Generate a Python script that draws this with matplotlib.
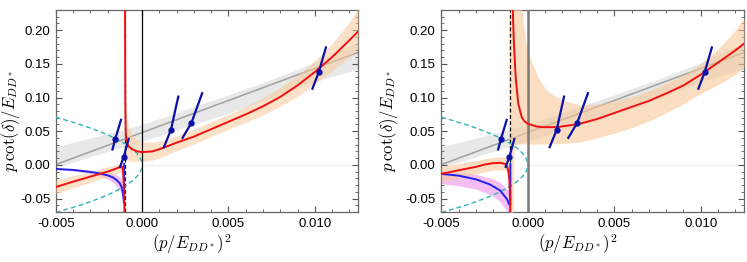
import numpy as np
import matplotlib
matplotlib.use("Agg")
import matplotlib.pyplot as plt
from matplotlib.ticker import MultipleLocator, FormatStrFormatter

plt.rcParams['font.family'] = ['Liberation Sans', 'DejaVu Sans']
plt.rcParams['mathtext.fontset'] = 'cm'

# ---------------- data ----------------
# lattice data: segments (low end, centre, high end)
data_seg_x = [[-0.00173, -0.00155, -0.00120],
              [-0.00130, -0.00107, -0.00076],
              [0.00124, 0.00167, 0.00211],
              [0.00231, 0.00286, 0.00350],
              [0.00984, 0.01023, 0.01066]]
data_seg_y = [[0.0213, 0.0387, 0.0684],
              [-0.0045, 0.0113, 0.0400],
              [0.0248, 0.0520, 0.1030],
              [0.0387, 0.0625, 0.1080],
              [0.1116, 0.1378, 0.1760]]

# cyan dashed: bound-state condition
cyan_x = [-0.005, -0.0045, -0.004, -0.0035, -0.003, -0.0025, -0.002, -0.0015,
          -0.001, -0.0006, -0.0003, -0.0001, -0.00002, 0.0]
cyan_y = [0.0707, 0.0671, 0.0632, 0.0592, 0.0548, 0.0500, 0.0447, 0.0387,
          0.0316, 0.0245, 0.0173, 0.0100, 0.0045, 0.0]

# gray linear fit and band
gray_x = [-0.005, 0.0125]
gray_y = [0.0004, 0.167]
gband_x = [-0.005, -0.0025, 0.0, 0.0025, 0.005, 0.0075, 0.010, 0.0125]
gband_hi = [0.027, 0.043, 0.060, 0.082, 0.104, 0.127, 0.152, 0.182]
gband_lo = [-0.004, 0.016, 0.035, 0.056, 0.077, 0.100, 0.124, 0.142]

lhc_x = -0.001

# ---- left panel ----
L_red_up_x = [-0.00099, -0.00098, -0.00097, -0.00096, -0.00094, -0.0009, -0.0008,
              -0.0006, -0.0003, 0.0, 0.0006, 0.0012, 0.002, 0.003, 0.004, 0.005,
              0.006, 0.007, 0.008, 0.009, 0.010, 0.011, 0.012, 0.0125]
L_red_up_y = [0.25, 0.16, 0.10, 0.065, 0.045, 0.036, 0.028, 0.0235, 0.020, 0.019,
              0.020, 0.025, 0.033, 0.042, 0.053, 0.064, 0.075, 0.087, 0.101, 0.118,
              0.138, 0.160, 0.185, 0.198]
L_oband_up_x = [-0.00097, -0.0009, -0.0008, -0.0006, -0.0003, 0.0, 0.0006, 0.0012,
                0.002, 0.003, 0.004, 0.005, 0.006, 0.007, 0.008, 0.009, 0.010,
                0.011, 0.012, 0.0125]
L_oband_up_hi = [0.09, 0.075, 0.058, 0.045, 0.037, 0.034, 0.034, 0.036, 0.043, 0.053,
                 0.064, 0.075, 0.087, 0.100, 0.115, 0.133, 0.155, 0.180, 0.212, 0.232]
L_oband_up_lo = [0.008, 0.007, 0.006, 0.005, 0.005, 0.005, 0.007, 0.012, 0.021, 0.031,
                 0.042, 0.053, 0.063, 0.074, 0.087, 0.102, 0.120, 0.140, 0.160, 0.172]
L_red_lo_x = [-0.005, -0.004, -0.003, -0.002, -0.0016, -0.0013, -0.0012, -0.00115,
              -0.0011, -0.00106, -0.00103, -0.00101]
L_red_lo_y = [-0.033, -0.025, -0.0175, -0.010, -0.0065, -0.0035, -0.0025, -0.003,
              -0.010, -0.030, -0.055, -0.080]
L_oband_lo_x = [-0.005, -0.004, -0.003, -0.002, -0.0016, -0.0013, -0.00115]
L_oband_lo_hi = [-0.023, -0.016, -0.010, -0.003, 0.000, 0.002, 0.002]
L_oband_lo_lo = [-0.043, -0.034, -0.026, -0.018, -0.014, -0.011, -0.012]
L_blue_x = [-0.005, -0.004, -0.003, -0.0025, -0.002, -0.0017, -0.0015, -0.0013,
            -0.0012, -0.00112, -0.00107, -0.00105, -0.00104]
L_blue_y = [-0.006, -0.0075, -0.0105, -0.0125, -0.0155, -0.0185, -0.022, -0.027,
            -0.032, -0.040, -0.050, -0.056, 0.0015]
L_mband_x = [-0.005, -0.004, -0.003, -0.0025, -0.002, -0.0017, -0.0015, -0.0013,
             -0.0012, -0.00112, -0.00105]
L_mband_hi = [-0.005, -0.006, -0.008, -0.009, -0.011, -0.013, -0.015, -0.018,
              -0.022, -0.030, -0.045]
L_mband_lo = [-0.007, -0.009, -0.013, -0.016, -0.021, -0.026, -0.031, -0.037,
              -0.042, -0.050, -0.060]

# ---- right panel ----
R_red_up_x = [-0.00088, -0.00085, -0.0008, -0.0007, -0.00055, -0.00035, -0.0002, 0.0,
              0.0005, 0.0009, 0.0017, 0.003, 0.004, 0.005, 0.006, 0.007, 0.008,
              0.009, 0.010, 0.011, 0.012, 0.0125]
R_red_up_y = [0.25, 0.215, 0.18, 0.13, 0.0907, 0.0708, 0.065, 0.061, 0.057, 0.056,
              0.056, 0.061, 0.068, 0.077, 0.086, 0.095, 0.106, 0.118, 0.134, 0.152,
              0.170, 0.180]
R_oband_up_x = [-0.00108, -0.00085, -0.0008, -0.0006, -0.00035, -0.0001, 0.0002,
                0.0006, 0.0011, 0.002, 0.003, 0.004, 0.005, 0.006, 0.007, 0.008,
                0.009, 0.010, 0.011, 0.012, 0.0125]
R_oband_up_hi = [0.25, 0.25, 0.25, 0.25, 0.23, 0.18, 0.155, 0.13, 0.11, 0.096, 0.089,
                 0.090, 0.095, 0.101, 0.110, 0.121, 0.133, 0.150, 0.172, 0.200, 0.218]
R_oband_up_lo = [-0.08, -0.08, 0.030, 0.031, 0.031, 0.031, 0.031, 0.031, 0.031, 0.032,
                 0.034, 0.040, 0.047, 0.055, 0.065, 0.077, 0.091, 0.106, 0.119, 0.134,
                 0.145]
R_red_lo_x = [-0.005, -0.004, -0.003, -0.0025, -0.002, -0.0016, -0.0013, -0.00118,
              -0.00112, -0.00107, -0.00104, -0.00102, -0.00101]
R_red_lo_y = [-0.0135, -0.008, -0.003, 0.0005, 0.0025, 0.003, 0.0015, -0.003, -0.010,
              -0.022, -0.040, -0.060, -0.080]
R_oband_lo_x = [-0.005, -0.004, -0.003, -0.0025, -0.002, -0.0016, -0.0013, -0.00118,
                -0.00112]
R_oband_lo_hi = [-0.003, 0.002, 0.006, 0.009, 0.011, 0.012, 0.011, 0.008, 0.002]
R_oband_lo_lo = [-0.026, -0.019, -0.013, -0.010, -0.008, -0.007, -0.008, -0.013, -0.020]
R_blue_x = [-0.005, -0.004, -0.003, -0.0022, -0.0016, -0.0012, -0.00107, -0.00101,
            -0.00101]
R_blue_y = [-0.0134, -0.016, -0.0215, -0.029, -0.038, -0.051, -0.059, -0.059, 0.0015]
R_mband_x = [-0.005, -0.004, -0.003, -0.002, -0.0016, -0.0013, -0.0011, -0.00102]
R_mband_hi = [-0.008, -0.011, -0.014, -0.021, -0.026, -0.033, -0.040, -0.045]
R_mband_lo = [-0.028, -0.031, -0.036, -0.046, -0.055, -0.065, -0.075, -0.080]

xticks = [-0.005, 0.000, 0.005, 0.010]
yticks = [-0.05, 0.00, 0.05, 0.10, 0.15, 0.20]

# ---------------- styling ----------------
C_RED = '#f01010'
C_ORANGE = '#f9c999'
C_GRAYBAND = '#e8e8e8'
C_GRAYLINE = '#a0a0a0'
C_CYAN = '#30b4b8'
C_MAG = '#f2aef2'
C_BLUE = '#2222ee'
C_DATA = '#0a10a8'

fig = plt.figure(figsize=(7.47, 2.62), dpi=100)
ax1 = fig.add_axes([55.7 / 747, 50 / 262, 302.3 / 747, 202 / 262])
ax2 = fig.add_axes([441.3 / 747, 50 / 262, 302.7 / 747, 202 / 262])

panels = [
    (ax1, dict(rux=L_red_up_x, ruy=L_red_up_y, obux=L_oband_up_x, obuh=L_oband_up_hi,
               obul=L_oband_up_lo, rlx=L_red_lo_x, rly=L_red_lo_y, oblx=L_oband_lo_x,
               oblh=L_oband_lo_hi, obll=L_oband_lo_lo, bx=L_blue_x, by=L_blue_y,
               mbx=L_mband_x, mbh=L_mband_hi, mbl=L_mband_lo,
               zc='black', zlw=0.9, oalpha=0.55)),
    (ax2, dict(rux=R_red_up_x, ruy=R_red_up_y, obux=R_oband_up_x, obuh=R_oband_up_hi,
               obul=R_oband_up_lo, rlx=R_red_lo_x, rly=R_red_lo_y, oblx=R_oband_lo_x,
               oblh=R_oband_lo_hi, obll=R_oband_lo_lo, bx=R_blue_x, by=R_blue_y,
               mbx=R_mband_x, mbh=R_mband_hi, mbl=R_mband_lo,
               zc='#7a7a7a', zlw=1.8, oalpha=0.6)),
]

for ax, d in panels:
    ax.fill_between(gband_x, gband_lo, gband_hi, color=C_GRAYBAND, lw=0, zorder=1)
    ax.plot(gray_x, gray_y, color=C_GRAYLINE, lw=1.1, zorder=2)
    ax.fill_between(d['mbx'], d['mbl'], d['mbh'], color=C_MAG, alpha=0.8, lw=0, zorder=2.5)
    ax.fill_between(d['obux'], d['obul'], d['obuh'], color=C_ORANGE, alpha=d['oalpha'],
                    lw=0, zorder=3)
    ax.fill_between(d['oblx'], d['obll'], d['oblh'], color=C_ORANGE, alpha=d['oalpha'],
                    lw=0, zorder=3)
    ax.plot([0, 0.0125], [0, 0], color='#f0f0f0', lw=1.0, zorder=1.5)
    ax.axvline(0.0, color=d['zc'], lw=d['zlw'], zorder=4)
    ax.axvline(lhc_x, color='black', lw=0.9, ls=(0, (3, 2)), zorder=4)
    ax.plot(cyan_x, cyan_y, color=C_CYAN, lw=1.0, ls=(0, (3.5, 2.2)), zorder=5)
    ax.plot(cyan_x, [-v for v in cyan_y], color=C_CYAN, lw=1.0, ls=(0, (3.5, 2.2)),
            zorder=5)
    ax.plot(d['bx'], d['by'], color=C_BLUE, lw=1.4, zorder=6)
    ax.plot(d['rlx'], d['rly'], color=C_RED, lw=1.4, zorder=6)
    ax.plot(d['rux'], d['ruy'], color=C_RED, lw=1.4, zorder=6)
    for sx, sy in zip(data_seg_x, data_seg_y):
        ax.plot(sx, sy, color=C_DATA, lw=1.6, zorder=7, solid_capstyle='butt')
        ax.plot([sx[1]], [sy[1]], 'o', color=C_DATA, ms=3.5, zorder=8)

    ax.set_xlim(-0.005, 0.0125)
    ax.set_ylim(-0.07, 0.23)
    ax.set_xticks(xticks)
    ax.set_yticks(yticks)
    ax.xaxis.set_minor_locator(MultipleLocator(0.001))
    ax.yaxis.set_minor_locator(MultipleLocator(0.01))
    ax.xaxis.set_major_formatter(FormatStrFormatter('%.3f'))
    ax.yaxis.set_major_formatter(FormatStrFormatter('%.2f'))
    ax.tick_params(which='both', direction='in', top=True, right=True,
                   color='#555555', labelsize=9.5, labelcolor='black')
    ax.tick_params(which='major', length=4, width=0.8, pad=4)
    ax.tick_params(which='minor', length=2.3, width=0.6)
    for sp in ax.spines.values():
        sp.set_color('#666666')
        sp.set_linewidth(0.9)
    ax.set_xlabel(r'$(p/E_{DD^*})^2$', fontsize=12, labelpad=2)
    ax.set_ylabel(r'$p\,\cot(\delta)/E_{DD^*}$', fontsize=12, labelpad=2)
    ax.xaxis.set_label_coords(0.45, -0.10)

ax1.yaxis.set_label_coords(-0.112, 0.45)
ax2.yaxis.set_label_coords(-0.136, 0.45)

fig.savefig('out.png', dpi=100)
